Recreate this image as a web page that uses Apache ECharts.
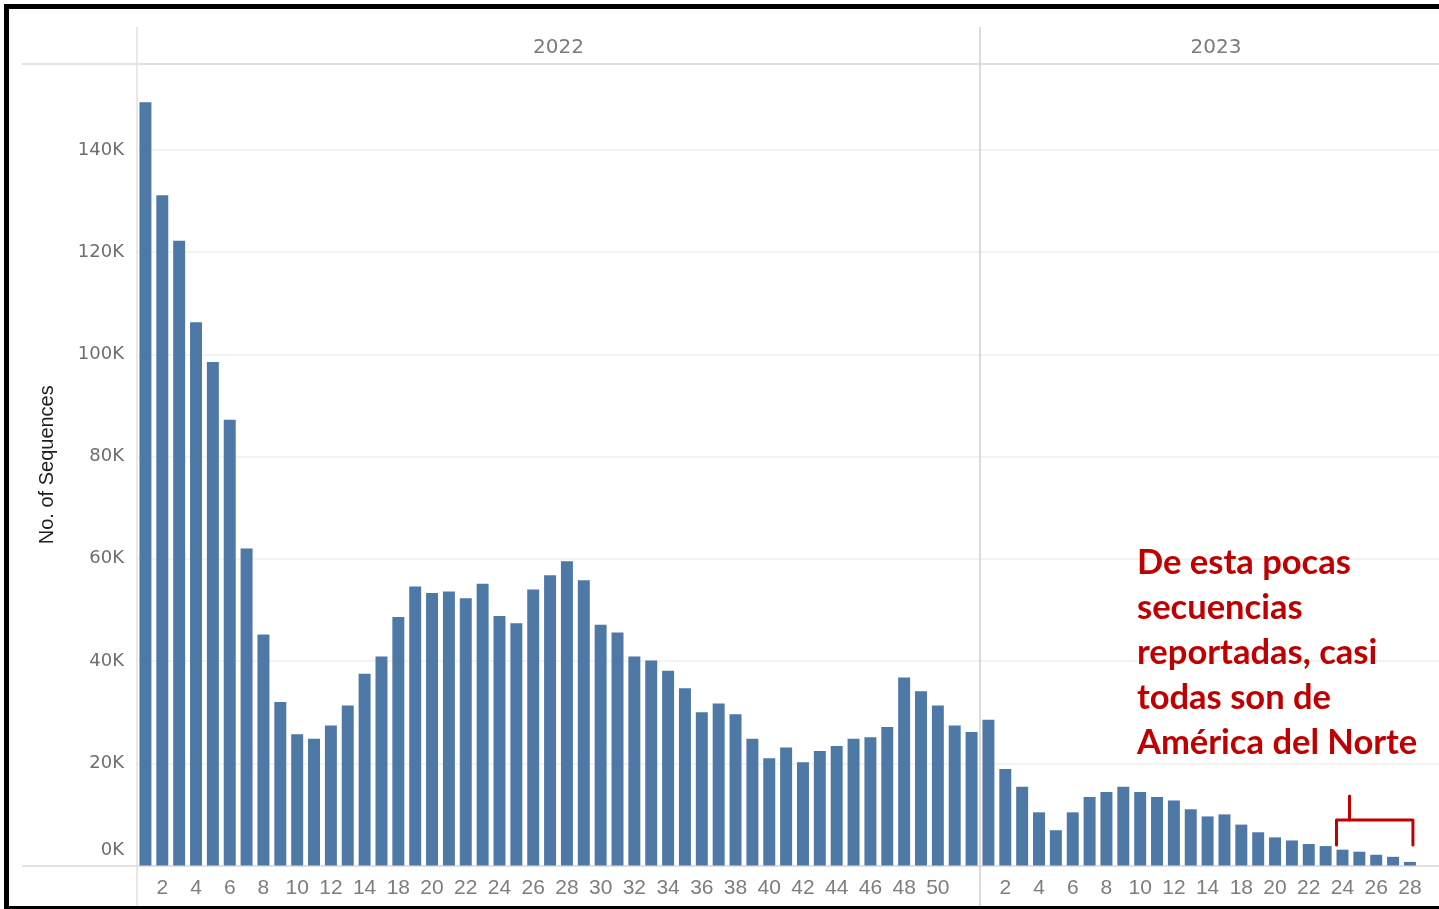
<!DOCTYPE html>
<html>
<head>
<meta charset="utf-8">
<script src="https://cdn.jsdelivr.net/npm/echarts@6/dist/echarts.min.js"></script>
<style>
html,body{margin:0;padding:0;background:#fff;}
#chart{width:1439px;height:909px;}
</style>
</head>
<body>
<div id="chart"></div>
<script>
// ---- data ----
const years = ['2022', '2023'];
const weeks2022 = ['1','2','3','4','5','6','7','8','9','10','11','12','13','14','16','18','19','20','21','22','23','24','25','26','27','28','29','30','31','32','33','34','35','36','37','38','39','40','41','42','43','44','45','46','47','48','49','50','51','52'];
const values2022 = [149300,131100,122200,106300,98500,87200,62000,45200,32000,25700,24800,27400,31300,37500,40900,48600,54600,53300,53600,52300,55100,48800,47400,54000,56800,59500,55800,47100,45600,40900,40100,38100,34700,30000,31700,29600,24800,21000,23100,20200,22400,23400,24800,25100,27100,36800,34100,31300,27400,26100];
const weeks2023 = ['1','2','3','4','5','6','7','8','9','10','11','12','13','14','16','18','19','20','21','22','23','24','25','26','27','28'];
const values2023 = [28500,18900,15400,10400,6900,10400,13400,14400,15400,14400,13400,12700,11000,9600,10000,8000,6500,5500,4900,4200,3800,3100,2700,2100,1700,700];
const yTickValues = [0,20000,40000,60000,80000,100000,120000,140000];
const yAxisTitle = 'No. of Sequences';
const noteText = 'De esta pocas\nsecuencias\nreportadas, casi\ntodas son de\nAmérica del Norte';

// ---- layout ----
const TOP = 64, H = 801.5, YMAX = 156800;
const BAND = 843 / weeks2022.length;
const BAR_COLOR = '#4e79a7';
const tickFont = 'DejaVu Sans';

function kfmt(v){
  if (yTickValues.indexOf(v) < 0) return '';
  if (v === 0) return '{z|0K}';
  return (v/1000) + 'K';
}
// every second week is labelled; the last 2022 label is hidden next to the year divider
const lbl2022 = (i) => i % 2 === 1 && i < weeks2022.length - 1;
const lbl2023 = (i) => i % 2 === 1;

const chart = echarts.init(document.getElementById('chart'), null, {renderer:'canvas'});

const yBase = {type:'value', min:0, max:YMAX, interval:20000,
  axisLine:{show:false}, axisTick:{show:false}, axisLabel:{show:false}, splitLine:{show:false}};

const option = {
  backgroundColor:'#ffffff',
  animation:false,
  grid:[
    {left:137, top:TOP, width:843, height:H},
    {left:980, top:TOP, width:BAND*weeks2023.length, height:H},
    {left:137, top:TOP, width:1302, height:H},
    {left:980, top:TOP, width:459, height:H}
  ],
  xAxis:[
    {type:'category', gridIndex:0, data:weeks2022, position:'bottom',
      axisLine:{show:false}, axisTick:{show:false},
      axisLabel:{interval:lbl2022, color:'#7d7d7d', fontFamily:'Liberation Sans', fontSize:21, margin:12}},
    {type:'category', gridIndex:1, data:weeks2023, position:'bottom',
      axisLine:{show:false}, axisTick:{show:false},
      axisLabel:{interval:lbl2023, color:'#7d7d7d', fontFamily:'Liberation Sans', fontSize:21, margin:12}},
    {type:'category', gridIndex:0, data:[years[0]], position:'top',
      axisLine:{show:false}, axisTick:{show:false},
      axisLabel:{color:'#7a7a7a', fontFamily:tickFont, fontSize:20, margin:6}},
    {type:'category', gridIndex:3, data:[years[1]], position:'top',
      axisLine:{show:false}, axisTick:{show:false},
      axisLabel:{color:'#7a7a7a', fontFamily:tickFont, fontSize:20, margin:6, padding:[0,0,0,13]}},
    {type:'value', gridIndex:2, min:0, max:1, show:false}
  ],
  yAxis:[
    Object.assign({}, yBase, {gridIndex:0,
      axisLabel:{show:true, formatter:kfmt, showMaxLabel:false, color:'#6e6e6e', fontFamily:tickFont, fontSize:18, margin:13,
        rich:{z:{color:'#6e6e6e', fontFamily:tickFont, fontSize:18, padding:[0,0,30,0]}}},
      name:yAxisTitle, nameLocation:'middle', nameGap:80, nameRotate:90,
      nameTextStyle:{color:'#1e1e1e', fontFamily:'Liberation Sans', fontSize:20}}),
    Object.assign({}, yBase, {gridIndex:1}),
    Object.assign({}, yBase, {gridIndex:2, splitLine:{show:true, lineStyle:{color:'#efefef', width:1.5}}}),
    Object.assign({}, yBase, {gridIndex:3})
  ],
  series:[
    {type:'bar', xAxisIndex:0, yAxisIndex:0, data:values2022, barWidth:'71%',
      itemStyle:{color:BAR_COLOR}, z:3},
    {type:'bar', xAxisIndex:1, yAxisIndex:1, data:values2023, barWidth:'71%',
      itemStyle:{color:BAR_COLOR}, z:3}
  ]
};
chart.setOption(option);

// structural lines, annotation and bracket
const p = (idx, val) => chart.convertToPixel({xAxisIndex:1, yAxisIndex:1}, [idx, val]);
const c21 = p(21, 0)[0], c25 = p(25, 0)[0];
const yTop = p(0, 8900)[1], yBot = p(0, 4000)[1], yStem = p(0, 13600)[1];
const L = c21 - 6, R = c25 + 3, S = c21 + 7;
const red = '#c00000';
const gray = '#dadada';
chart.setOption({
  graphic:[
    {type:'line', shape:{x1:22, y1:64, x2:1439, y2:64}, style:{stroke:gray, lineWidth:1.5}, z:1},
    {type:'line', shape:{x1:22, y1:866, x2:1439, y2:866}, style:{stroke:gray, lineWidth:1.5}, z:1},
    {type:'line', shape:{x1:137, y1:27, x2:137, y2:906}, style:{stroke:'#e2e2e2', lineWidth:1.5}, z:1},
    {type:'line', shape:{x1:980, y1:27, x2:980, y2:906}, style:{stroke:'#cfcfcf', lineWidth:1.5}, z:1},
    {type:'rect', shape:{x:4, y:4, width:1435, height:5}, style:{fill:'#000'}, z:10},
    {type:'rect', shape:{x:4, y:4, width:5, height:905}, style:{fill:'#000'}, z:10},
    {type:'rect', shape:{x:4, y:906, width:1435, height:3}, style:{fill:'#000'}, z:10},
    {type:'text', left:1137, top:540, z:20,
      style:{text:noteText, fill:red, font:'bold 34.5px Lato', lineHeight:45}},
    {type:'polyline', z:20, shape:{points:[[L,yBot],[L,yTop],[R,yTop],[R,yBot]]},
      style:{stroke:red, lineWidth:3, fill:null, lineJoin:'round', lineCap:'round'}},
    {type:'line', z:20, shape:{x1:S, y1:yTop, x2:S, y2:yStem},
      style:{stroke:red, lineWidth:3, lineCap:'round'}}
  ]
});
</script>
</body>
</html>
